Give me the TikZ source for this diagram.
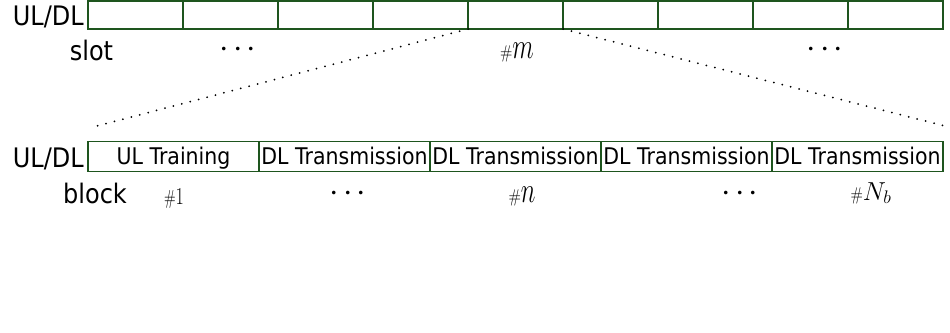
\RequirePackage{fix-cm}
\documentclass[tikz,border=0pt]{standalone}
\usepackage{fontspec}
\newfontfamily\dv{DejaVu Sans}
\usepackage{graphicx}
\definecolor{boxgreen}{RGB}{30,85,30}
\newcommand\threedots{$\cdotp$\hspace{4pt}$\cdotp$\hspace{4pt}$\cdotp$}
\newcommand\tallt[1]{\scalebox{1}[1.12]{#1}}
\newcommand\hashsign{\scalebox{1}[1.15]{\fontsize{16}{18}\selectfont\#}}
\begin{document}
\begin{tikzpicture}[x=1pt,y=-1pt,
  slotcell/.style={draw=boxgreen,line width=1.2pt,minimum width=95pt,minimum height=28pt,inner sep=0pt,outer sep=0pt,anchor=north west},
  blockcell/.style={draw=boxgreen,line width=1.2pt,minimum width=171pt,minimum height=30pt,inner sep=0pt,outer sep=0pt,anchor=north west,font=\dv\fontsize{20.5}{24}\selectfont,text height=16pt,text depth=0pt},
  biglab/.style={font=\dv\fontsize{24}{28}\selectfont,inner sep=0pt},
  dotslab/.style={font=\fontsize{34}{38}\selectfont,inner sep=0pt},
  mathlab/.style={inner sep=0pt,anchor=base},
  zoomline/.style={line width=2pt,line cap=round,dash pattern=on 0pt off 8.7pt}
]
\useasboundingbox (0,0) rectangle (950,332);

% slot bar
\foreach \i in {1,...,9}
  \node[slotcell] (s\i) at ({88+95*(\i-1)},1) {};
\node[biglab,anchor=base east] (ul1) at (84,25) {\tallt{UL/DL}};
\node[biglab,anchor=base] (slot) at (91.5,60) {\tallt{slot}};
\node[dotslab] (d1) at (238,50) {\threedots};
\node[mathlab] (hm) at (517,58) {\hashsign\scalebox{1}[1.45]{\fontsize{25}{28}\selectfont$m$}};
\node[dotslab] (d2) at (825,50) {\threedots};

% zoom lines
\coordinate (zl) at (97,126);
\coordinate (zr) at (945,126);
\draw[zoomline] (s5.south west) -- (zl);
\draw[zoomline] (s5.south east) -- (zr);

% block bar
\node[blockcell] (b1) at (88,141.5) {\tallt{UL Training}};
\node[blockcell] (b2) at (259,141.5) {\tallt{DL Transmission}};
\node[blockcell] (b3) at (430,141.5) {\tallt{DL Transmission}};
\node[blockcell] (b4) at (601,141.5) {\tallt{DL Transmission}};
\node[blockcell] (b5) at (772,141.5) {\tallt{DL Transmission}};
\node[biglab,anchor=base east] (ul2) at (84,167) {\tallt{UL/DL}};
\node[biglab,anchor=base] (block) at (95,203) {\tallt{block}};
\node[mathlab] (h1) at (174,204) {\scalebox{1}[1.35]{\fontsize{15}{18}\selectfont\#\fontsize{18}{20}\selectfont 1}};
\node[dotslab] (d3) at (348,194) {\threedots};
\node[mathlab] (hn) at (522,202) {\hashsign\scalebox{1}[1.45]{\fontsize{25}{28}\selectfont$n$}};
\node[dotslab] (d4) at (740,194) {\threedots};
\node[mathlab] (hN) at (871,200) {\hashsign\fontsize{26}{30}\selectfont$N_b$};
\end{tikzpicture}
\end{document}
